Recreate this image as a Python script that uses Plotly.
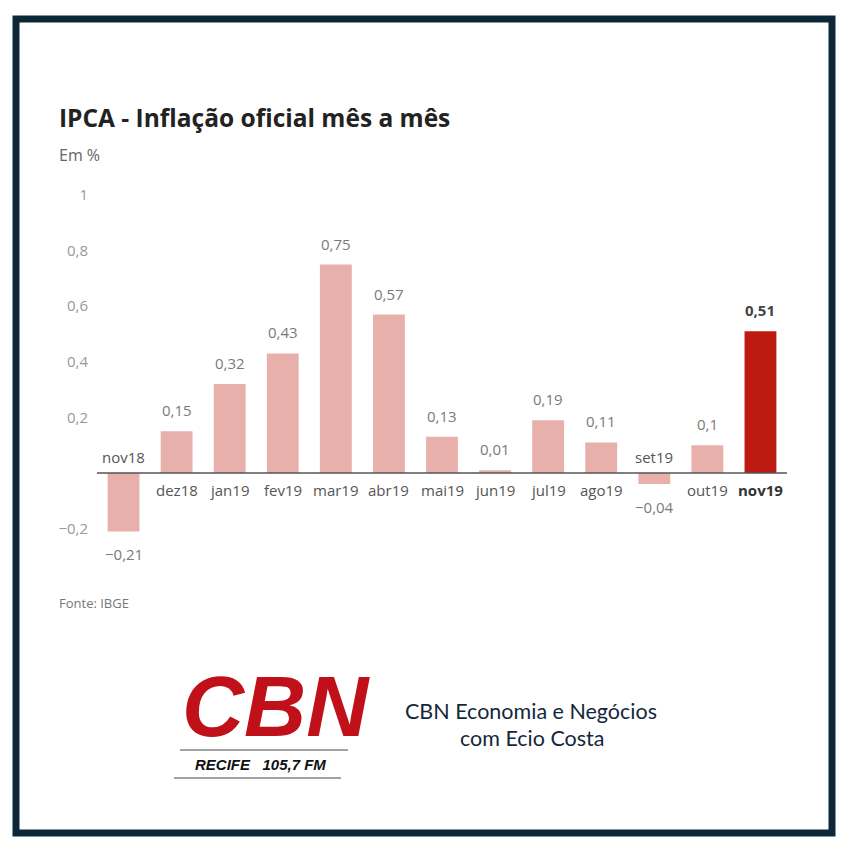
import plotly.graph_objects as go

# IPCA mensal (%), nov/2018 a nov/2019
meses = ["nov18", "dez18", "jan19", "fev19", "mar19", "abr19", "mai19",
         "jun19", "jul19", "ago19", "set19", "out19", "nov19"]
ipca = [-0.21, 0.15, 0.32, 0.43, 0.75, 0.57, 0.13, 0.01, 0.19, 0.11, -0.04, 0.10, 0.51]
y_ticks = [1, 0.8, 0.6, 0.4, 0.2, -0.2]

W, H = 850, 849
L, R, T, B = 97, 63, 180, 289
PW, PH = W - L - R, H - T - B

def px(x):  # pixel -> paper x
    return (x - L) / PW

def py(y):  # pixel -> paper y
    return (H - B - y) / PH

def br(v):
    s = f"{v:.2f}".rstrip("0").rstrip(".").replace(".", ",")
    return s.replace("-", "\u2212")

FONT = "Open Sans"
pale, dark = "#e8b0ab", "#bd1a10"
cores = [dark if m == meses[-1] else pale for m in meses]

fig = go.Figure(go.Bar(x=meses, y=ipca, marker_color=cores, marker_line_width=0,
                       hoverinfo="skip"))

anns = []
for m, v in zip(meses, ipca):
    last = m == meses[-1]
    up = v >= 0
    anns.append(dict(x=m, y=v, text=f"<b>{br(v)}</b>" if last else br(v),
                     showarrow=False, yshift=21 if up else -23,
                     font=dict(family=FONT, size=15, color="#444" if last else "#7a7a7a")))
    anns.append(dict(x=m, y=0, text=f"<b>{m}</b>" if last else m,
                     showarrow=False, yshift=-17 if up else 16,
                     font=dict(family=FONT, size=15, color="#333" if last else "#555")))

def txt(x, y, text, size, color, family=FONT, xanchor="left", **kw):
    anns.append(dict(xref="paper", yref="paper", x=px(x), y=py(y), text=text,
                     showarrow=False, xanchor=xanchor, yanchor="middle",
                     font=dict(family=family, size=size, color=color), **kw))

txt(57, 117, "<b>IPCA - Inflação oficial mês a mês</b>", 24.5, "#222")
txt(57, 155, "Em %", 16, "#666")
txt(57, 603, "Fonte: IBGE", 13, "#777")
txt(276, 706, "<b><i>CBN</i></b>", 86, "#c0111a", family="Liberation Sans", xanchor="center")
txt(260, 764, "<b><i>RECIFE   105,7 FM</i></b>", 15, "#111", family="Liberation Sans", xanchor="center")
txt(531, 711, "CBN Economia e Negócios", 21.5, "#13283a", family="Lato", xanchor="center")
txt(532, 738, "com Ecio Costa", 21.5, "#13283a", family="Lato", xanchor="center")

shapes = [
    dict(type="line", xref="paper", yref="y", x0=0, x1=1, y0=0, y1=0,
         line=dict(color="#555", width=1.5)),
    dict(type="line", xref="paper", yref="paper", x0=px(180), x1=px(348), y0=py(750), y1=py(750),
         line=dict(color="#444", width=1.2)),
    dict(type="line", xref="paper", yref="paper", x0=px(174), x1=px(341), y0=py(778), y1=py(778),
         line=dict(color="#444", width=1.2)),
    dict(type="rect", xref="paper", yref="paper", x0=px(16), x1=px(832), y0=py(19), y1=py(833),
         line=dict(color="#0c2838", width=7)),
]

fig.update_layout(
    width=W, height=H, margin=dict(l=L, r=R, t=T, b=B),
    paper_bgcolor="white", plot_bgcolor="white",
    bargap=0.4, showlegend=False,
    annotations=anns, shapes=shapes,
    xaxis=dict(showticklabels=False, showgrid=False, zeroline=False, showline=False,
               range=[-0.5, len(meses) - 0.5], fixedrange=True),
    yaxis=dict(range=[-(H - B - 473) / 278, (473 - T) / 278], showgrid=False, zeroline=False,
               tickvals=y_ticks, ticktext=[br(v) for v in y_ticks], ticks="",
               ticklabelstandoff=8,
               tickfont=dict(family=FONT, size=15, color="#999"), fixedrange=True),
)

fig.write_html("out.html", config={"displayModeBar": False},
               post_script="document.body.style.margin='0';")
